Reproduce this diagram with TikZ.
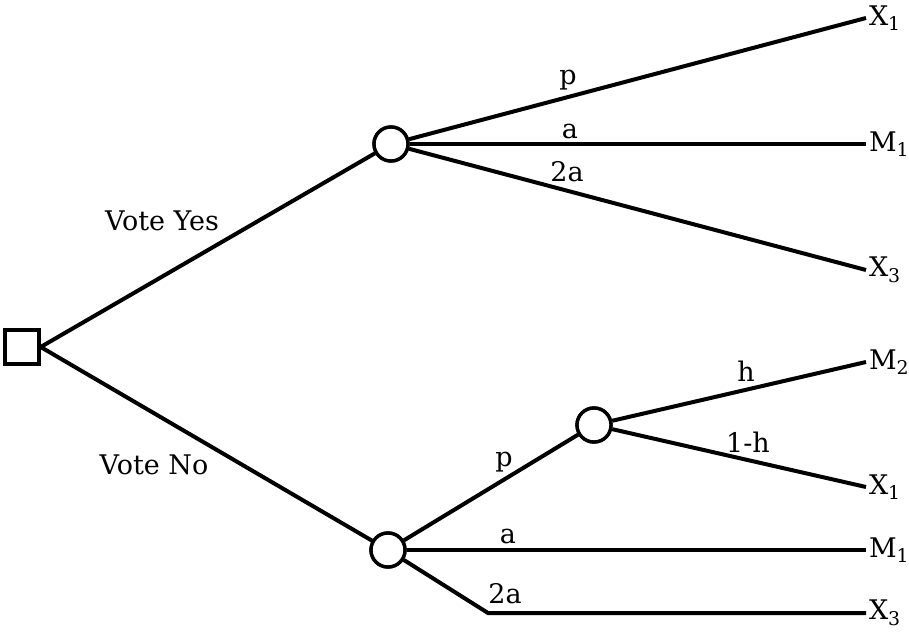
\documentclass[tikz,border=0pt]{standalone}
\usepackage{fontspec}
\setmainfont{DejaVu Serif}
\begin{document}
\begin{tikzpicture}[x=1pt,y=1pt,
  line width=4pt,
  lbl/.style={font=\fontsize{27}{32}\selectfont, inner sep=0pt},
  endlbl/.style={font=\fontsize{27}{32}\selectfont, inner sep=1pt, anchor=west},
  chance/.style={circle, draw, line width=3.4pt, minimum size=34pt, inner sep=0pt, fill=white},
  decision/.style={rectangle, draw, line width=3.4pt, minimum size=34pt, inner sep=0pt, fill=white}]
\useasboundingbox (0,0) rectangle (909,637);
% nodes
\node[decision] (sq) at (22,290) {};
\node[chance] (c1) at (391,493) {};
\node[chance] (c2) at (388,87) {};
\node[chance] (c3) at (594,212) {};
\node[endlbl] (e1) at (866,619) {X\textsubscript{1}};
\node[endlbl] (e2) at (866,493) {M\textsubscript{1}};
\node[endlbl] (e3) at (866,367) {X\textsubscript{3}};
\node[endlbl] (e4) at (866,275) {M\textsubscript{2}};
\node[endlbl] (e5) at (866,150) {X\textsubscript{1}};
\node[endlbl] (e6) at (866,87) {M\textsubscript{1}};
\node[endlbl] (e7) at (866,24) {X\textsubscript{3}};
\coordinate (k) at (488,24);
% connectors
\draw (sq.east) -- (c1);
\draw (sq.east) -- (c2);
\draw (c1) -- (e1.west);
\draw (c1) -- (e2.west);
\draw (c1) -- (e3.west);
\draw (c2) -- (c3);
\draw (c2) -- (e6.west);
\draw (c2) -- (k) -- (e7.west);
\draw (c3) -- (e4.west);
\draw (c3) -- (e5.west);
% redraw circles on top
\node[chance] at (c1) {};
\node[chance] at (c2) {};
\node[chance] at (c3) {};
% labels
\node[lbl] (lp1) at (568,557) {p};
\node[lbl] (la1) at (570,506) {a};
\node[lbl] (l2a1) at (567,465) {2a};
\node[lbl] (lyes) at (162,416) {Vote Yes};
\node[lbl] (lno) at (154,172) {Vote No};
\node[lbl] (lh) at (746,266) {h};
\node[lbl] (l1h) at (748,195) {1-h};
\node[lbl] (lp2) at (504,175) {p};
\node[lbl] (la2) at (508,101) {a};
\node[lbl] (l2a2) at (505,43) {2a};
\end{tikzpicture}
\end{document}
